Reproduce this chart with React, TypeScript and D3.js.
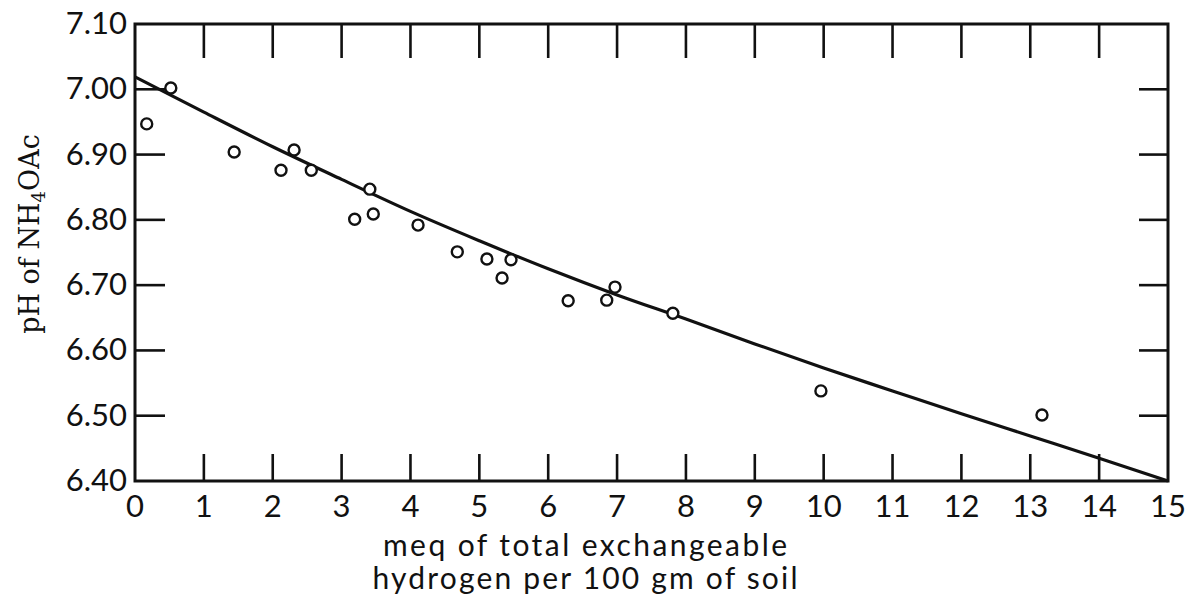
import { useEffect, useRef } from "react";
import * as d3 from "d3";

// measured points: meq of exchangeable H vs pH of NH4OAc
const meqH = [
  0.17, 0.52, 1.44, 2.12, 2.31, 2.56, 3.19, 3.41, 3.46, 4.11, 4.68, 5.11, 5.33,
  5.46, 6.29, 6.85, 6.97, 7.81, 9.96, 13.17,
];
const phValues = [
  6.947, 7.002, 6.904, 6.876, 6.907, 6.876, 6.801, 6.847, 6.809, 6.792, 6.751,
  6.74, 6.711, 6.739, 6.676, 6.677, 6.697, 6.657, 6.538, 6.501,
];

// fitted curve
const curveX = [0, 1, 2, 3, 4, 5, 6, 7, 8, 9, 10, 11, 12, 13, 14, 15];
const curveY = [
  7.019, 6.965, 6.912, 6.862, 6.813, 6.768, 6.725, 6.685, 6.648, 6.61, 6.573,
  6.538, 6.503, 6.469, 6.435, 6.4,
];

const xTicks = d3.range(0, 16);
const yTicks = [6.4, 6.5, 6.6, 6.7, 6.8, 6.9, 7.0, 7.1];

const xTitle = ["meq of total exchangeable", "hydrogen per 100 gm of soil"];

const FONT = "Lato, 'Open Sans', sans-serif";

export default function App() {
  const ref = useRef<HTMLDivElement>(null);

  useEffect(() => {
    if (!ref.current) return;
    const container = ref.current;
    container.innerHTML = "";

    const W = 1198;
    const H = 605;
    const left = 135;
    const right = 1168;
    const top = 24;
    const bottom = 481;

    const svg = d3
      .select(container)
      .append("svg")
      .attr("width", W)
      .attr("height", H)
      .style("display", "block")
      .style("background", "#fff");

    const x = d3.scaleLinear().domain([0, 15]).range([left, right]);
    const y = d3.scaleLinear().domain([6.4, 7.1]).range([bottom, top]);

    const ink = "#111";

    // frame
    svg
      .append("rect")
      .attr("x", left)
      .attr("y", top)
      .attr("width", right - left)
      .attr("height", bottom - top)
      .attr("fill", "none")
      .attr("stroke", ink)
      .attr("stroke-width", 3);

    // inner ticks on all four sides
    const inner = xTicks.slice(1, -1);
    svg
      .append("g")
      .selectAll("line")
      .data(inner)
      .join("line")
      .attr("x1", (d) => x(d))
      .attr("x2", (d) => x(d))
      .attr("y1", top)
      .attr("y2", top + 34)
      .attr("stroke", ink)
      .attr("stroke-width", 2.6);
    svg
      .append("g")
      .selectAll("line")
      .data(inner)
      .join("line")
      .attr("x1", (d) => x(d))
      .attr("x2", (d) => x(d))
      .attr("y1", bottom)
      .attr("y2", bottom - 27)
      .attr("stroke", ink)
      .attr("stroke-width", 2.6);

    const innerY = yTicks.slice(1, -1);
    svg
      .append("g")
      .selectAll("line")
      .data(innerY)
      .join("line")
      .attr("x1", left)
      .attr("x2", left + 30)
      .attr("y1", (d) => y(d))
      .attr("y2", (d) => y(d))
      .attr("stroke", ink)
      .attr("stroke-width", 2.6);
    svg
      .append("g")
      .selectAll("line")
      .data(innerY)
      .join("line")
      .attr("x1", right)
      .attr("x2", right - 29)
      .attr("y1", (d) => y(d))
      .attr("y2", (d) => y(d))
      .attr("stroke", ink)
      .attr("stroke-width", 2.6);

    // tick labels
    svg
      .append("g")
      .selectAll("text")
      .data(xTicks)
      .join("text")
      .attr("x", (d) => x(d))
      .attr("y", bottom + 36)
      .attr("text-anchor", "middle")
      .attr("font-family", FONT)
      .attr("font-size", 31)
      .attr("fill", ink)
      .text((d) => d);

    svg
      .append("g")
      .selectAll("text")
      .data(yTicks)
      .join("text")
      .attr("x", left - 8)
      .attr("y", (d) => y(d) + 10)
      .attr("text-anchor", "end")
      .attr("font-family", FONT)
      .attr("font-size", 31)
      .attr("fill", ink)
      .text((d) => d.toFixed(2));

    // x axis title
    const xt = svg
      .append("text")
      .attr("text-anchor", "middle")
      .attr("font-family", FONT)
      .attr("font-size", 30)
      .attr("fill", ink);
    xt.append("tspan")
      .attr("x", 585)
      .attr("y", 556)
      .attr("textLength", 404)
      .attr("lengthAdjust", "spacing")
      .text(xTitle[0]);
    xt.append("tspan")
      .attr("x", 585)
      .attr("y", 589)
      .attr("textLength", 425)
      .attr("lengthAdjust", "spacing")
      .text(xTitle[1]);

    // y axis title
    const yt = svg
      .append("text")
      .attr("transform", "translate(39,234) rotate(-90)")
      .attr("text-anchor", "middle")
      .attr("font-family", "'DejaVu Serif', serif")
      .attr("font-size", 27)
      .attr("fill", ink);
    yt.append("tspan").text("pH of NH");
    yt.append("tspan").attr("font-size", 18).attr("dy", 6).text("4");
    yt.append("tspan").attr("dy", -6).text("OAc");

    // fitted curve
    const pts = curveX.map((v, i) => [v, curveY[i]] as [number, number]);
    const line = d3
      .line<[number, number]>()
      .x((d) => x(d[0]))
      .y((d) => y(d[1]))
      .curve(d3.curveMonotoneX);
    svg
      .append("path")
      .datum(pts)
      .attr("fill", "none")
      .attr("stroke", ink)
      .attr("stroke-width", 3.2)
      .attr("d", line);

    // observations
    svg
      .append("g")
      .selectAll("circle")
      .data(meqH.map((v, i) => [v, phValues[i]]))
      .join("circle")
      .attr("cx", (d) => x(d[0]))
      .attr("cy", (d) => y(d[1]))
      .attr("r", 5.5)
      .attr("fill", "#fff")
      .attr("stroke", ink)
      .attr("stroke-width", 2.4);

    return () => {
      container.innerHTML = "";
    };
  }, []);

  return (
    <div
      ref={ref}
      style={{ position: "absolute", left: 0, top: 0, background: "#fff" }}
    />
  );
}
